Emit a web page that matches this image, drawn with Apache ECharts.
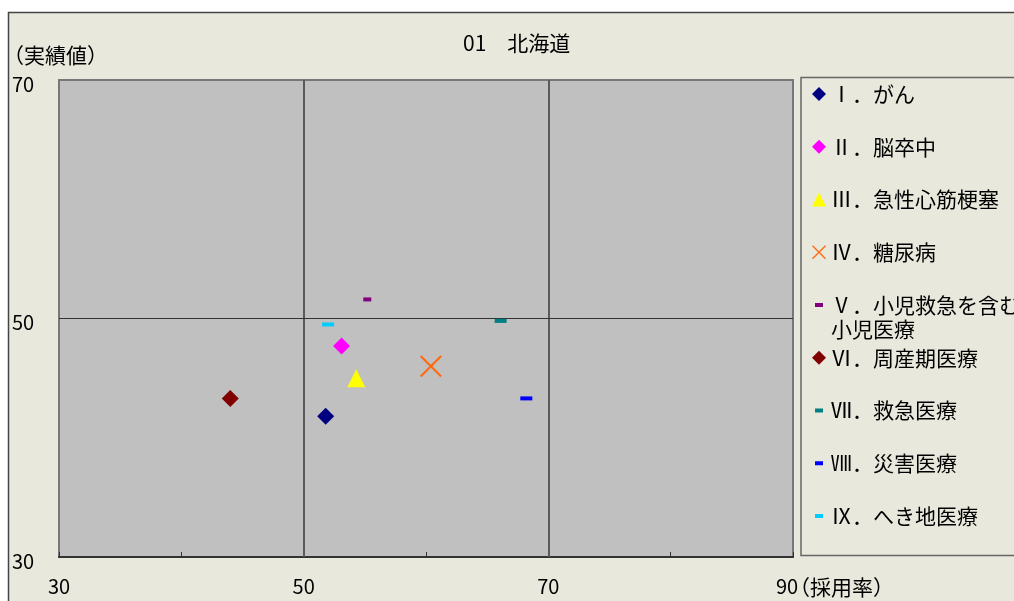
<!DOCTYPE html>
<html>
<head>
<meta charset="utf-8">
<script src="https://cdn.jsdelivr.net/npm/echarts@6/dist/echarts.min.js"></script>
<style>
html,body{margin:0;padding:0;background:#fff;}
#chart{width:1014px;height:601px;}
</style>
</head>
<body>
<div id="chart"></div>
<script>
// ---- data ----
const titleText = '01\u3000北海道';
const categories = ['Ⅰ．がん','Ⅱ．脳卒中','Ⅲ．急性心筋梗塞','Ⅳ．糖尿病','Ⅴ．小児救急を含む小児医療','Ⅵ．周産期医療','Ⅶ．救急医療','Ⅷ．災害医療','Ⅸ．へき地医療'];
const xValues = [51.8, 53.1, 54.3, 60.4, 55.2, 44.0, 66.1, 68.2, 52.0];
const yValues = [41.8, 47.7, 45.0, 46.0, 51.6, 43.3, 49.8, 43.3, 49.5];
const xTickLabels = [30, 50, 70, 90];
const yTickLabels = [30, 50, 70];
const gridX = [50, 70];
const gridY = [50];
const xAxisName = '（採用率）';
const yAxisName = '（実績値）';

// ---- styles ----
const FONT = '"Noto Sans CJK JP", "Noto Sans", sans-serif';
const xPath = 'path://M0,1.5L1.5,0L22,20.5L20.5,22Z M20.5,0L22,1.5L1.5,22L0,20.5Z';
const dashIcon = 'path://M0,0M14,14M3,5h8v4h-8z';
const markerStyles = [
  {symbol:'diamond', size:17, color:'#000080', icon:'diamond'},
  {symbol:'diamond', size:17, color:'#FF00FF', icon:'diamond'},
  {symbol:'triangle', size:18, color:'#FFFF00', icon:'triangle'},
  {symbol:xPath, size:22, color:'#FF6A10', icon:xPath},
  {symbol:'rect', size:[8,4], color:'#800080', icon:dashIcon},
  {symbol:'diamond', size:17, color:'#800000', icon:'diamond'},
  {symbol:'rect', size:[12,4], color:'#008080', icon:dashIcon},
  {symbol:'rect', size:[12,4], color:'#0000FF', icon:dashIcon},
  {symbol:'rect', size:[12,4], color:'#00CCFF', icon:dashIcon}
];

const chart = echarts.init(document.getElementById('chart'), null, {renderer:'canvas'});

const series = categories.map((name, i) => ({
  name: name,
  type: 'scatter',
  data: [[xValues[i], yValues[i]]],
  symbol: markerStyles[i].symbol,
  symbolSize: markerStyles[i].size,
  itemStyle: {color: markerStyles[i].color, opacity: 1},
  z: 5,
  silent: true
}));
series.unshift({
  name: '_grid',
  type: 'scatter',
  data: [],
  z: 1,
  markLine: {
    silent: true,
    symbol: 'none',
    animation: false,
    label: {show: false},
    data: gridX.map(v => ({xAxis: v, lineStyle: {color:'#5a5a5a', width:2, type:'solid'}}))
      .concat(gridY.map(v => ({yAxis: v, lineStyle: {color:'#333', width:1, type:'solid'}})))
  }
});

const option = {
  animation: false,
  backgroundColor: '#e8e8dc',
  textStyle: {fontFamily: FONT},
  title: {
    text: titleText,
    left: 463, top: 33, padding: 0,
    textStyle: {fontSize: 21, fontWeight: 'normal', color: '#000', fontFamily: FONT}
  },
  grid: {
    left: 59, right: 221, top: 80, bottom: 44,
    show: true, backgroundColor: '#c0c0c0', borderColor: '#777', borderWidth: 2
  },
  xAxis: {
    type: 'value', min: 30, max: 90, interval: 10,
    name: xAxisName, nameLocation: 'end', nameGap: -4, nameMoveOverlap: false,
    nameTextStyle: {fontSize: 21, color: '#000', verticalAlign: 'top', align: 'left', padding: [20,0,0,0], fontFamily: FONT},
    axisLine: {show: true, onZero: false, lineStyle: {color: '#333', width: 2}},
    axisTick: {show: true, inside: true, length: 5, lineStyle: {color: '#333'}},
    axisLabel: {
      margin: 19, fontSize: 20, color: '#000', fontFamily: FONT,
      formatter: v => xTickLabels.includes(v) ? (v === xTickLabels[xTickLabels.length-1] ? '{r|' + v + '}' : String(v)) : '',
      rich: {r: {fontSize: 20, color: '#000', padding: [0,12,0,0], fontFamily: FONT}}
    },
    splitLine: {show: false}
  },
  yAxis: {
    type: 'value', min: 30, max: 70, interval: 10,
    axisLine: {show: true, onZero: false, lineStyle: {color: '#777', width: 2}},
    axisTick: {show: false},
    axisLabel: {
      margin: 47, align: 'left', verticalAlign: 'top', lineHeight: 8, fontSize: 20, color: '#000', fontFamily: FONT,
      formatter: v => yTickLabels.includes(v) ? String(v) : ''
    },
    splitLine: {show: false}
  },
  legend: {
    orient: 'vertical', left: 812, top: 82, padding: 0,
    itemWidth: 14, itemHeight: 14, itemGap: 28.75,
    selectedMode: false,
    textStyle: {fontSize: 21, lineHeight: 24, color: '#000', fontFamily: FONT},
    formatter: n => n === categories[4] ? 'Ⅴ．小児救急を含む' : n,
    data: categories.map((n, i) => ({name: n, icon: markerStyles[i].icon}))
  },
  graphic: [
    {type:'rect', shape:{x:0, y:0, width:1014, height:12}, style:{fill:'#fff'}, silent:true},
    {type:'rect', shape:{x:0, y:0, width:8, height:601}, style:{fill:'#fff'}, silent:true},
    {type:'polyline', shape:{points:[[8.5,601],[8.5,12.5],[1014,12.5]]}, style:{stroke:'#444', lineWidth:1.5, fill:null}, silent:true},
    {type:'rect', shape:{x:801, y:77.5, width:300, height:478}, style:{stroke:'#666', lineWidth:1.5, fill:null}, silent:true},
    {type:'text', left: 3, top: 45, style:{text: yAxisName, fill:'#000', font: '21px ' + FONT}, silent:true},
    {type:'text', left: 831, top: 319, style:{text: '小児医療', fill:'#000', font: '21px ' + FONT}, silent:true}
  ],
  series: series
};
chart.setOption(option);
</script>
</body>
</html>
